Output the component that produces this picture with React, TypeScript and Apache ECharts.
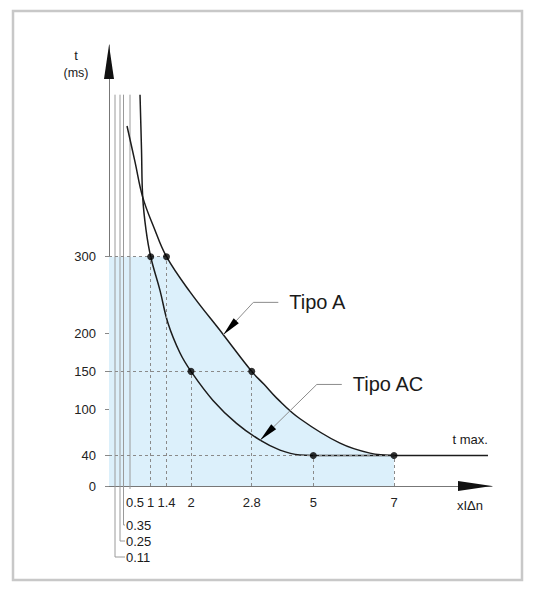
import React, { useEffect, useRef } from "react";
import * as echarts from "echarts";

// Schematic (non-linear) x scale: value -> position along the axis
const X_SCALE_VALUES = [0, 0.11, 0.25, 0.35, 0.5, 1, 1.4, 2, 2.8, 5, 7, 10];
const X_SCALE_POS = [0, 6, 11, 14.5, 21, 41.7, 57.5, 82, 142.7, 204.3, 285, 406];
const U_MAX = 383;
const Y_MAX = 577;

const Y_TICKS = [0, 40, 100, 150, 200, 300];
const X_MAIN_TICKS = [1, 1.4, 2, 2.8, 5, 7];
const X_SMALL_TICKS = [0.11, 0.25, 0.35, 0.5];
const SMALL_TICK_TOP = 512;

const TIPO_AC: number[][] = [
  [0.742, 512], [0.778, 440], [0.807, 378], [0.887, 335], [1, 300],
  [1.235, 256], [1.437, 213], [1.731, 174], [2, 150], [2.29, 112],
  [2.6, 82], [3.1, 60], [3.81, 47], [4.52, 40.6], [5, 40],
];
const TIPO_A: number[][] = [
  [0.431, 471], [0.621, 424], [0.807, 378], [1.084, 338], [1.4, 300],
  [1.976, 254], [2.426, 198], [2.8, 150], [3.24, 133], [3.693, 115],
  [4.525, 88], [5.662, 56], [6.405, 43], [7, 40],
];
const KEY_AC: number[][] = [[1, 300], [2, 150], [5, 40]];
const KEY_A: number[][] = [[1.4, 300], [2.8, 150], [7, 40]];
const T_MAX = 40;
const T_MAX_END = 9.33;
const TIPO_A_POINT = [2.426, 198];
const TIPO_AC_POINT = [3.1, 60];

const FONT = "'Liberation Sans', Arial, Helvetica, sans-serif";

function toU(x: number): number {
  const xs = X_SCALE_VALUES;
  const us = X_SCALE_POS;
  for (let i = 0; i < xs.length - 1; i++) {
    if (x <= xs[i + 1] || i === xs.length - 2) {
      return us[i] + ((x - xs[i]) / (xs[i + 1] - xs[i])) * (us[i + 1] - us[i]);
    }
  }
  return 0;
}
const P = (pts: number[][]) => pts.map(([x, t]) => [toU(x), t]);

function labelFor(u: number): string {
  const all = [...X_MAIN_TICKS, ...X_SMALL_TICKS];
  let best = all[0];
  for (const t of all) if (Math.abs(toU(t) - u) < Math.abs(toU(best) - u)) best = t;
  return String(best);
}

export default function App() {
  const ref = useRef<HTMLDivElement>(null);
  useEffect(() => {
    if (!ref.current) return;
    const chart = echarts.init(ref.current, undefined, { renderer: "svg" });
    const keys = [...KEY_AC, ...KEY_A];
    const dashed: any[] = [];
    keys.forEach(([x, t]) => {
      dashed.push([{ coord: [0, t] }, { coord: [toU(x), t] }]);
      dashed.push([{ coord: [toU(x), 0] }, { coord: [toU(x), t] }]);
    });
    const fillColor = "#dcf0fb";
    const curveColor = "#1c1c1c";
    chart.setOption({
      animation: false,
      grid: { left: 109, right: 44, top: 45, bottom: 106, containLabel: false },
      xAxis: {
        type: "value",
        min: 0,
        max: U_MAX,
        splitLine: { show: false },
        axisLine: { show: true, lineStyle: { color: "#777", width: 1 } },
        axisTick: { show: false },
        axisLabel: {
          customValues: X_MAIN_TICKS.map(toU),
          formatter: (v: number) => labelFor(v),
          margin: 10,
          fontSize: 13,
          color: "#222",
          fontFamily: FONT,
        },
      },
      yAxis: {
        type: "value",
        min: 0,
        max: Y_MAX,
        splitLine: { show: false },
        axisLine: { show: true, lineStyle: { color: "#777", width: 1 } },
        axisTick: { show: true, customValues: Y_TICKS, length: 4, lineStyle: { color: "#888" } },
        axisLabel: {
          customValues: Y_TICKS,
          margin: 13,
          fontSize: 13,
          color: "#222",
          fontFamily: FONT,
        },
      },
      series: [
        {
          name: "fillRect",
          type: "line",
          data: P([[0, KEY_A[0][1]], [KEY_A[0][0], KEY_A[0][1]]]),
          symbol: "none",
          lineStyle: { width: 0 },
          areaStyle: { color: fillColor, opacity: 1 },
          z: 1,
          silent: true,
        },
        {
          name: "fillCurve",
          type: "line",
          data: P(TIPO_A.filter((p) => p[0] >= KEY_A[0][0])),
          smooth: 0.4,
          symbol: "none",
          lineStyle: { width: 0 },
          areaStyle: { color: fillColor, opacity: 1 },
          z: 1,
          silent: true,
        },
        {
          name: "guides",
          type: "line",
          data: [],
          markLine: {
            silent: true,
            symbol: "none",
            label: { show: false },
            lineStyle: { type: [3, 3], color: "#8a8a8a", width: 1 },
            data: dashed,
          },
          z: 2,
        },
        {
          name: "Tipo A",
          type: "line",
          data: P(TIPO_A),
          smooth: 0.4,
          symbol: "none",
          lineStyle: { color: curveColor, width: 1.5 },
          z: 4,
        },
        {
          name: "Tipo AC",
          type: "line",
          data: P(TIPO_AC),
          smooth: 0.4,
          symbol: "none",
          lineStyle: { color: curveColor, width: 1.5 },
          z: 4,
        },
        {
          name: "t max",
          type: "line",
          data: P([[KEY_AC[2][0], T_MAX], [T_MAX_END, T_MAX]]),
          symbol: "none",
          lineStyle: { color: curveColor, width: 1.5 },
          z: 4,
          clip: false,
        },
        {
          name: "points",
          type: "scatter",
          data: P(keys),
          symbolSize: 7,
          itemStyle: { color: "#000" },
          z: 5,
        },
      ],
    });

    const conv = (u: number, t: number) =>
      chart.convertToPixel({ gridIndex: 0 }, [u, t]) as number[];
    const px = (x: number, t: number) => conv(toU(x), t);
    const g: any[] = [];
    const txt = (text: string, x: number, y: number, size: number, align = "left") => ({
      type: "text",
      silent: true,
      z: 20,
      style: {
        text,
        x,
        y,
        fill: "#1a1a1a",
        fontSize: size,
        fontFamily: FONT,
        textAlign: align,
        textVerticalAlign: "middle",
        verticalAlign: "middle",
      },
    });
    // frame
    g.push({
      type: "rect",
      silent: true,
      shape: { x: 13, y: 11, width: 509, height: 569 },
      style: { fill: "none", stroke: "#c8c8c8", lineWidth: 2.5 },
    });
    // axis arrows
    const yTop = conv(0, Y_MAX);
    const xEnd = conv(U_MAX, 0);
    g.push({
      type: "polygon",
      silent: true,
      z: 10,
      shape: { points: [[yTop[0], yTop[1]], [yTop[0] - 5, yTop[1] + 34], [yTop[0] + 5, yTop[1] + 34]] },
      style: { fill: "#111" },
    });
    g.push({
      type: "polygon",
      silent: true,
      z: 10,
      shape: { points: [[xEnd[0], xEnd[1]], [xEnd[0] - 34, xEnd[1] - 5], [xEnd[0] - 34, xEnd[1] + 5]] },
      style: { fill: "#111" },
    });
    // axis titles
    g.push(txt("t", yTop[0] - 33, 55, 13, "center"));
    g.push(txt("(ms)", yTop[0] - 33, 73, 12.5, "center"));
    g.push(txt("xIΔn", xEnd[0] - 22, 505, 13, "center"));
    // t max label
    const tEnd = px(T_MAX_END, T_MAX);
    g.push(txt("t max.", tEnd[0], tEnd[1] - 16, 13, "right"));
    // small ticks with leaders
    const origin = conv(0, 0);
    const labelX = px(0.35, 0)[0] + 2.5;
    const drops: Record<string, number> = { "0.11": 71, "0.25": 55, "0.35": 39, "0.5": 16 };
    X_SMALL_TICKS.forEach((x) => {
      const top = px(x, SMALL_TICK_TOP);
      const d = drops[String(x)];
      const isHalf = x === 0.5;
      const pts = isHalf
        ? [[top[0], top[1]], [top[0], origin[1] + 3]]
        : [[top[0], top[1]], [top[0], origin[1] + d], [labelX - 1, origin[1] + d]];
      g.push({
        type: "polyline",
        silent: true,
        z: 3,
        shape: { points: pts },
        style: { stroke: "#9a9a9a", lineWidth: 1, fill: "none" },
      });
      g.push(txt(String(x), labelX, origin[1] + d, 13, "left"));
    });
    // pointers
    const pointer = (pt: number[], dx: number, dy: number, label: string) => {
      const tip = px(pt[0], pt[1]);
      const elbow = [tip[0] + dx, tip[1] + dy];
      const end = [elbow[0] + 25, elbow[1]];
      g.push({
        type: "polyline",
        silent: true,
        z: 8,
        shape: { points: [tip, elbow, end] },
        style: { stroke: "#8c8c8c", lineWidth: 1, fill: "none" },
      });
      const len = Math.hypot(dx, dy);
      const ux = dx / len;
      const uy = dy / len;
      const L = 19;
      const W = 3.5;
      const bx = tip[0] + ux * L;
      const by = tip[1] + uy * L;
      g.push({
        type: "polygon",
        silent: true,
        z: 9,
        shape: {
          points: [
            [tip[0], tip[1]],
            [bx - uy * W, by + ux * W],
            [bx + uy * W, by - ux * W],
          ],
        },
        style: { fill: "#000" },
      });
      g.push(txt(label, end[0] + 11, end[1], 20, "left"));
    };
    pointer(TIPO_A_POINT, 30, -32.3, "Tipo A");
    pointer(TIPO_AC_POINT, 56.7, -55.7, "Tipo AC");

    chart.setOption({ graphic: g });
    return () => chart.dispose();
  }, []);
  return (
    <div
      ref={ref}
      style={{ position: "fixed", left: 0, top: 0, width: 536, height: 592, background: "#fff" }}
    />
  );
}
